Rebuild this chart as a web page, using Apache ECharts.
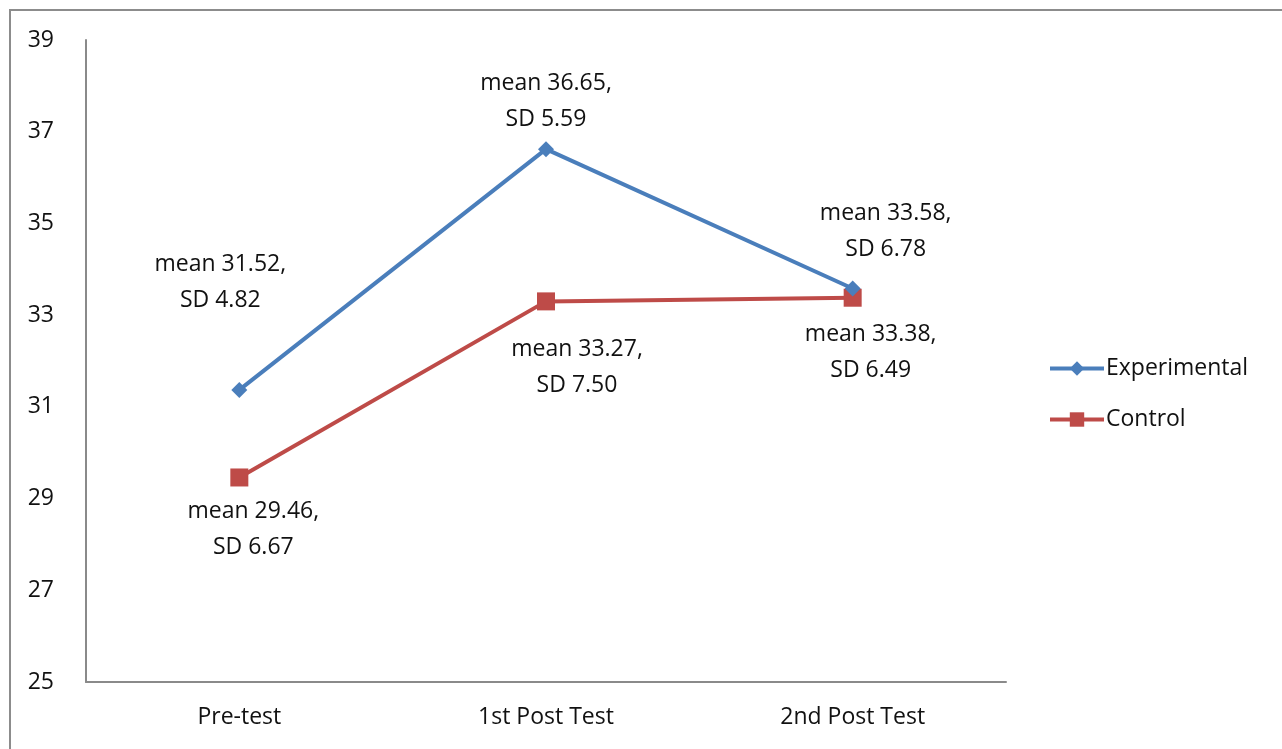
<!DOCTYPE html>
<html>
<head>
<meta charset="utf-8">
<script src="https://cdn.jsdelivr.net/npm/echarts@6/dist/echarts.min.js"></script>
<style>html,body{margin:0;padding:0;background:#fff;}#c{width:1282px;height:749px;}</style>
</head>
<body>
<div id="c"></div>
<script>
const categories = ['Pre-test', '1st Post Test', '2nd Post Test'];
const seriesNames = ['Experimental', 'Control'];
const experimental = [31.37, 36.62, 33.58];
const control = [29.46, 33.3, 33.38];
const experimentalMean = ['31.52', '36.65', '33.58'];
const experimentalSD = ['4.82', '5.59', '6.78'];
const controlMean = ['29.46', '33.27', '33.38'];
const controlSD = ['6.67', '7.50', '6.49'];
const yTicks = { min: 25, max: 39, interval: 2 };

const FONT = 'Open Sans';
const TXT = '#111111';
const expOffsets = [[-19, -107], [0, -48], [33, -57]];
const ctlOffsets = [[14, 52], [31, 66], [18, 55]];

function build(vals, means, sds, offs) {
  return vals.map((v, i) => ({
    value: v,
    label: {
      show: true,
      position: 'inside',
      offset: offs[i],
      formatter: 'mean ' + means[i] + ',\nSD ' + sds[i],
      color: TXT,
      fontFamily: FONT,
      fontSize: 23,
      fontWeight: 500,
      lineHeight: 36,
      align: 'center',
      verticalAlign: 'middle'
    }
  }));
}

const chart = echarts.init(document.getElementById('c'), null, { renderer: 'canvas' });
chart.setOption({
  animation: false,
  backgroundColor: '#fff',
  graphic: [{
    type: 'rect',
    shape: { x: 10, y: 10, width: 1290, height: 760 },
    style: { fill: 'none', stroke: '#8c8c8c', lineWidth: 2 },
    silent: true
  }],
  grid: { left: 86, right: 276, top: 40, bottom: 67 },
  legend: {
    orient: 'vertical',
    left: 1043,
    top: 352,
    itemWidth: 54,
    itemHeight: 18,
    itemGap: 28,
    data: [
      { name: seriesNames[0], itemStyle: { color: '#4a7ebb' }, lineStyle: { width: 4, color: '#4a7ebb' } },
      { name: seriesNames[1], itemStyle: { color: '#be4b48' }, lineStyle: { width: 4, color: '#be4b48' } }
    ],
    textStyle: { fontFamily: FONT, fontSize: 23, fontWeight: 500, color: TXT, padding: [0, 0, 0, -3] }
  },
  xAxis: {
    type: 'category',
    data: categories,
    boundaryGap: true,
    axisLine: { lineStyle: { color: '#8a8a8a', width: 2 } },
    axisTick: { show: false },
    axisLabel: { fontFamily: FONT, fontSize: 23, fontWeight: 500, color: TXT, margin: 24 }
  },
  yAxis: {
    type: 'value',
    min: yTicks.min,
    max: yTicks.max,
    interval: yTicks.interval,
    axisLine: { show: true, lineStyle: { color: '#8a8a8a', width: 2 } },
    axisTick: { show: false },
    splitLine: { show: false },
    axisLabel: { fontFamily: FONT, fontSize: 23, fontWeight: 500, color: TXT, margin: 32 }
  },
  series: [
    {
      name: seriesNames[0],
      type: 'line',
      data: build(experimental, experimentalMean, experimentalSD, expOffsets),
      symbol: 'diamond',
      symbolSize: 16,
      lineStyle: { width: 4, color: '#4a7ebb' },
      itemStyle: { color: '#4a7ebb' },
      z: 3
    },
    {
      name: seriesNames[1],
      type: 'line',
      data: build(control, controlMean, controlSD, ctlOffsets),
      symbol: 'rect',
      symbolSize: 18,
      lineStyle: { width: 4, color: '#be4b48' },
      itemStyle: { color: '#be4b48' },
      z: 2
    }
  ]
});
</script>
</body>
</html>
